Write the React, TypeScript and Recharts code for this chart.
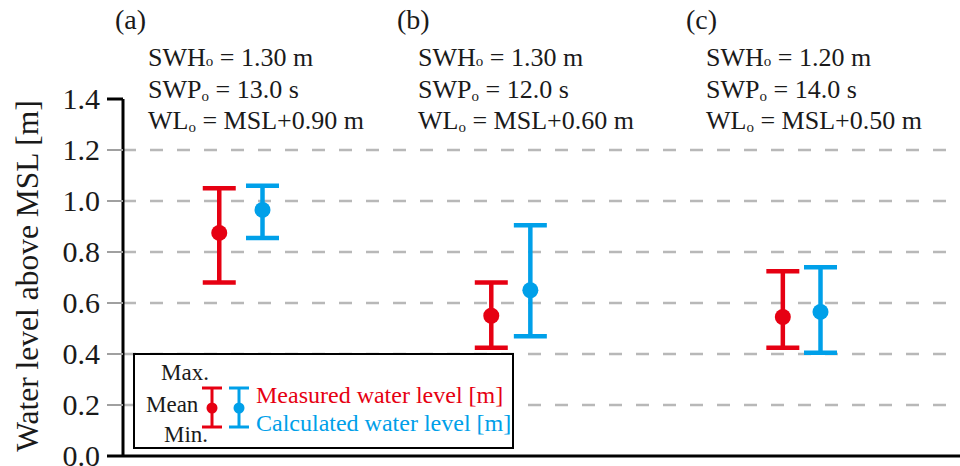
import React from "react";
import { ComposedChart, Scatter, ErrorBar, XAxis, YAxis, ReferenceLine } from "recharts";

// cases (a)-(c)
const caseLabels = ["(a)", "(b)", "(c)"];
const swhValues = ["1.30", "1.30", "1.20"];
const swpValues = ["13.0", "12.0", "14.0"];
const wlValues = ["0.90", "0.60", "0.50"];

// position of each marker along the (hidden) case axis
const measuredX = [0.345, 1.32, 2.365];
const calculatedX = [0.5, 1.46, 2.5];

const measuredMax = [1.05, 0.68, 0.725];
const measuredMean = [0.875, 0.55, 0.545];
const measuredMin = [0.68, 0.425, 0.425];

const calculatedMax = [1.06, 0.905, 0.74];
const calculatedMean = [0.965, 0.65, 0.565];
const calculatedMin = [0.855, 0.47, 0.405];

const yTicks = [0, 0.2, 0.4, 0.6, 0.8, 1.0, 1.2, 1.4];
const gridValues = [0.2, 0.4, 0.6, 0.8, 1.0, 1.2];

const RED = "#E60012";
const BLUE = "#00A0E9";
const FONT = "'Liberation Serif', 'Times New Roman', serif";

// where the case annotations sit on the page
const labelLeft = [115, 397, 686];
const blockLeft = [148, 418, 706];

const buildData = (xs: number[], mean: number[], min: number[], max: number[]) =>
  xs.map((x, i) => ({ x, y: mean[i], err: [mean[i] - min[i], max[i] - mean[i]] }));

const measuredData = buildData(measuredX, measuredMean, measuredMin, measuredMax);
const calculatedData = buildData(calculatedX, calculatedMean, calculatedMin, calculatedMax);

const YTick = (props: any) => {
  const { x, y, payload } = props;
  const edge = payload.value === 0 || payload.value === 1.4;
  return (
    <g>
      <line x1={x} x2={x + 16} y1={y} y2={y} stroke={edge ? "#000" : "#a0a0a0"} strokeWidth={edge ? 3 : 2} />
      <text x={x - 7} y={y} dy="0.34em" textAnchor="end" fontSize={30} fill="#1a1a1a" fontFamily={FONT}>
        {Number(payload.value).toFixed(1)}
      </text>
    </g>
  );
};

const YLabel = () => (
  <text x={27} y={276} transform="rotate(-90, 27, 276)" textAnchor="middle" dominantBaseline="central"
    fontSize={31.5} fill="#1a1a1a" fontFamily={FONT}>
    Water level above MSL [m]
  </text>
);

const dotShape = (color: string) => (p: any) => <circle cx={p.cx} cy={p.cy} r={8} fill={color} />;

const Sub = ({ lower }: { lower?: boolean }) => (
  <span style={{ fontSize: "15px", lineHeight: 0, position: "relative", top: lower ? "3px" : "0px" }}>o</span>
);

const LegendBox = () => (
  <div style={{
    position: "absolute", left: 133, top: 353, width: 381, height: 96, boxSizing: "border-box",
    border: "2.5px solid #000", background: "#fff", fontFamily: FONT, fontSize: "23px", color: "#1a1a1a",
  }}>
    <div style={{ position: "absolute", left: 26, top: 4, lineHeight: "28px" }}>Max.</div>
    <div style={{ position: "absolute", left: 11, top: 36, lineHeight: "28px" }}>Mean</div>
    <div style={{ position: "absolute", left: 29, top: 66, lineHeight: "28px" }}>Min.</div>
    <svg width={60} height={96} style={{ position: "absolute", left: 55, top: -2.5 }}>
      {[{ c: RED, x: 22 }, { c: BLUE, x: 49 }].map(({ c, x }) => (
        <g key={c} stroke={c} strokeWidth={3}>
          <line x1={x} x2={x} y1={35} y2={74} />
          <line x1={x - 10} x2={x + 10} y1={35} y2={35} />
          <line x1={x - 10} x2={x + 10} y1={74} y2={74} />
          <circle cx={x} cy={55} r={5.5} fill={c} stroke="none" />
        </g>
      ))}
    </svg>
    <div style={{ position: "absolute", left: 121, top: 26, lineHeight: "28px", color: RED, fontSize: "24px" }}>
      Measured water level [m]
    </div>
    <div style={{ position: "absolute", left: 121, top: 54, lineHeight: "28px", color: BLUE, fontSize: "24px" }}>
      Calculated water level [m]
    </div>
  </div>
);

export default function App() {
  return (
    <div style={{ position: "absolute", left: 0, top: 0, width: 960, height: 466, background: "#fff" }}>
      <ComposedChart width={960} height={466} margin={{ top: 99, right: 0, bottom: 0, left: 0 }}>
        <XAxis type="number" dataKey="x" domain={[0, 3]} tick={false} tickLine={false} height={10}
          axisLine={{ stroke: "#000", strokeWidth: 3 }} allowDataOverflow />
        <YAxis type="number" domain={[0, 1.4]} ticks={yTicks} width={123} tickSize={16} tickMargin={0}
          tickLine={false} tick={<YTick />} axisLine={{ stroke: "#000", strokeWidth: 3 }} allowDataOverflow
          label={<YLabel />} />
        {gridValues.map((v) => (
          <ReferenceLine key={v} y={v} stroke="#b8b8b8" strokeWidth={2.5} strokeDasharray="13 14" />
        ))}
        <Scatter data={measuredData} dataKey="y" fill={RED} shape={dotShape(RED)} isAnimationActive={false}>
          <ErrorBar dataKey="err" direction="y" width={16.5} stroke={RED} strokeWidth={4.5} isAnimationActive={false} />
        </Scatter>
        <Scatter data={calculatedData} dataKey="y" fill={BLUE} shape={dotShape(BLUE)} isAnimationActive={false}>
          <ErrorBar dataKey="err" direction="y" width={16.5} stroke={BLUE} strokeWidth={4.5} isAnimationActive={false} />
        </Scatter>
      </ComposedChart>

      {caseLabels.map((lab, i) => (
        <div key={lab} style={{ position: "absolute", left: labelLeft[i], top: 4, fontFamily: FONT, fontSize: "28px", color: "#1a1a1a" }}>
          {lab}
        </div>
      ))}
      {caseLabels.map((lab, i) => (
        <div key={lab + "-info"} style={{
          position: "absolute", left: blockLeft[i], top: 42, fontFamily: FONT, fontSize: "26px",
          lineHeight: "31.5px", color: "#1a1a1a", whiteSpace: "nowrap",
        }}>
          <div>SWH<Sub /> = {swhValues[i]} m</div>
          <div>SWP<Sub lower /> = {swpValues[i]} s</div>
          <div>WL<Sub lower /> = MSL+{wlValues[i]} m</div>
        </div>
      ))}
      <LegendBox />
    </div>
  );
}
